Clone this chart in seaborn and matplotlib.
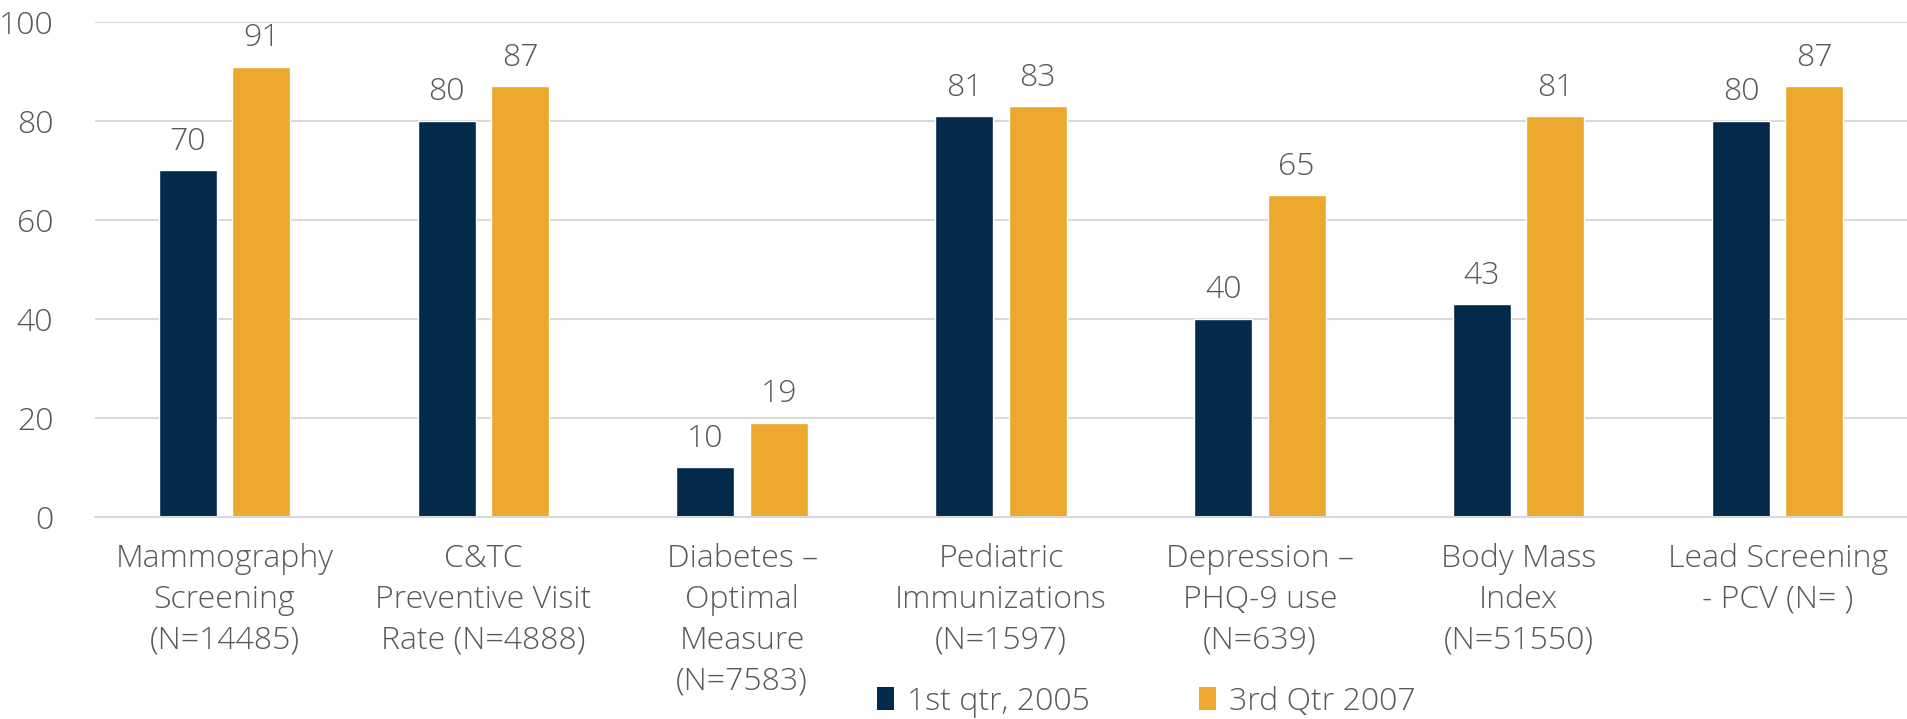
import matplotlib
matplotlib.use("Agg")
import matplotlib.pyplot as plt
from matplotlib.patches import Patch
import seaborn as sns
import pandas as pd

categories = [
    "Mammography\nScreening\n(N=14485)",
    "C&TC\nPreventive Visit\nRate (N=4888)",
    "Diabetes \u2013\nOptimal\nMeasure\n(N=7583)",
    "Pediatric\nImmunizations\n(N=1597)",
    "Depression \u2013\nPHQ-9 use\n(N=639)",
    "Body Mass\nIndex\n(N=51550)",
    "Lead Screening\n- PCV (N= )",
]
series_names = ["1st qtr, 2005", "3rd Qtr 2007"]
q1_2005 = [70, 80, 10, 81, 40, 43, 80]
q3_2007 = [91, 87, 19, 83, 65, 81, 87]
y_ticks = [0, 20, 40, 60, 80, 100]

colors = ["#03294B", "#EDA92F"]
text_color = "#595959"
grid_color = "#D9D9D9"
font_size = 23

df = pd.DataFrame({
    "category": categories * 2,
    "series": [series_names[0]] * len(categories) + [series_names[1]] * len(categories),
    "value": q1_2005 + q3_2007,
})

sns.set_theme(style="white")
plt.rcParams["font.family"] = ["Open Sans", "DejaVu Sans"]
plt.rcParams["font.weight"] = "light"

fig = plt.figure(figsize=(19.07, 7.19), dpi=100)
ax = fig.add_axes([0.0498, 0.281, 0.9502, 0.6884])

sns.barplot(data=df, x="category", y="value", hue="series", order=categories,
            hue_order=series_names, palette=colors, width=0.567, gap=0.21,
            saturation=1, legend=False, ax=ax)

for container in ax.containers:
    ax.bar_label(container, fmt="%d", padding=9, fontsize=font_size,
                 color=text_color, fontweight="light")

ax.set_ylim(0, 100)
ax.set_xlim(-0.5, len(categories) - 0.5)
ax.set_yticks(y_ticks)
ax.set_yticklabels([str(t) for t in y_ticks])
ax.yaxis.grid(True, color=grid_color, linewidth=1.5)
ax.set_axisbelow(True)
for side in ["top", "right", "left"]:
    ax.spines[side].set_visible(False)
ax.spines["bottom"].set_color(grid_color)
ax.spines["bottom"].set_linewidth(1.5)
ax.set_xlabel("")
ax.set_ylabel("")
ax.tick_params(axis="both", length=0, labelsize=font_size, labelcolor=text_color)
ax.tick_params(axis="y", pad=30)
ax.tick_params(axis="x", pad=19)
for lbl in ax.get_xticklabels():
    lbl.set_linespacing(1.36)

handles = [Patch(facecolor=c, edgecolor="none") for c in colors]
fig.legend(handles, series_names, loc="center", bbox_to_anchor=(0.601, 0.024),
           ncol=2, frameon=False, fontsize=font_size, labelcolor=text_color,
           handlelength=0.55, handleheight=0.75, handletextpad=0.4,
           columnspacing=3.4)

fig.savefig("out.png", dpi=100)
